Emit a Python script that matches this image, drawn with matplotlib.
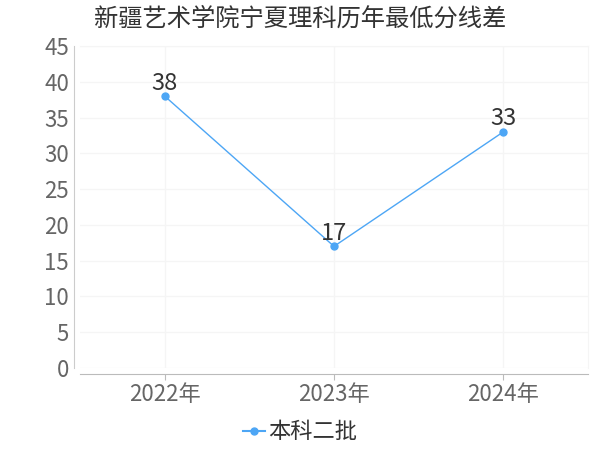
import matplotlib
matplotlib.use("Agg")
import matplotlib.pyplot as plt
from matplotlib.lines import Line2D

plt.rcParams['font.family'] = ['Noto Sans CJK SC', 'DejaVu Sans']

# 数据
title = "新疆艺术学院宁夏理科历年最低分线差"
years = ["2022年", "2023年", "2024年"]
values = [38, 17, 33]
series_name = "本科二批"
y_ticks = list(range(0, 50, 5))

line_color = "#4da6f5"

fig = plt.figure(figsize=(6, 4.5), dpi=100)
W, H = 600, 450
left, right, top, bottom = 80, 588, 46, 368
ax = fig.add_axes([left / W, 1 - bottom / H, (right - left) / W, (bottom - top) / H])

x = list(range(len(years)))
ax.plot(x, values, color=line_color, lw=1.0, marker="o", ms=5, zorder=3)
for xi, v in zip(x, values):
    ax.annotate(str(v), (xi, v), xytext=(0, 1), textcoords="offset points",
                ha="center", va="bottom", fontsize=17, color="#333333", zorder=4)

ax.set_xlim(-0.5, len(years) - 0.5)
ax.set_ylim(0, 45)
ax.set_yticks(y_ticks)
ax.set_xticks(x)
ax.set_xticklabels(years)
ax.tick_params(axis="y", length=0, pad=4, labelsize=16, labelcolor="#666666")
ax.tick_params(axis="x", length=4, color="#bbbbbb", pad=3, labelsize=16, labelcolor="#666666")

ax.grid(True, color="#f5f5f5", lw=1)
ax.set_axisbelow(True)

for s in ["top", "right"]:
    ax.spines[s].set_color("#f5f5f5")
ax.spines["left"].set_color("#cccccc")
ax.spines["left"].set_position(("outward", 4))
ax.spines["bottom"].set_color("#bbbbbb")
ax.spines["bottom"].set_position(("outward", 4))

fig.text(0.5, 1 - 19 / H, title, ha="center", va="center", fontsize=17.5, color="#333333")

handle = Line2D([], [], color=line_color, marker="o", ms=5, lw=1.5)
fig.legend([handle], [series_name], loc="center", bbox_to_anchor=(0.5, 1 - 432 / H),
           frameon=False, fontsize=16, handlelength=1.0, handletextpad=0.15,
           labelcolor="#333333")

fig.savefig("out.png", dpi=100)
